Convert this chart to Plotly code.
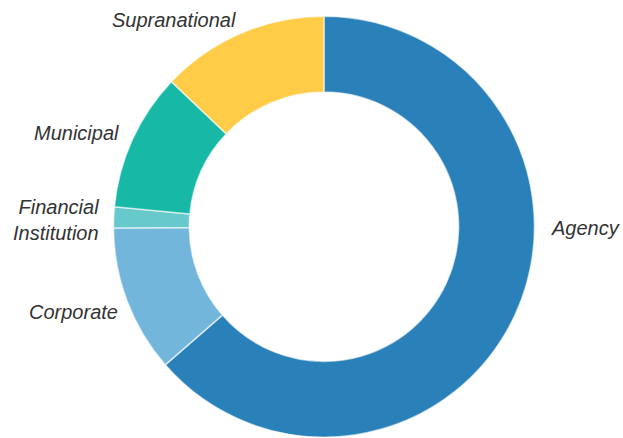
import plotly.graph_objects as go

categories = ["Agency", "Corporate", "Financial Institution", "Municipal", "Supranational"]
values = [63.6, 11.3, 1.6, 10.6, 12.9]
colors = ["#2a80b8", "#72b6db", "#68c9cc", "#17b9a6", "#fecc46"]
label_texts = ["Agency", "Corporate", "Financial<br>Institution", "Municipal", "Supranational"]

fig = go.Figure(go.Pie(
    labels=categories,
    values=values,
    sort=False,
    direction="clockwise",
    rotation=0,
    hole=0.64,
    marker=dict(colors=colors, line=dict(color="rgba(255,255,255,0.6)", width=1.5)),
    textinfo="none",
    hoverinfo="label+percent",
    domain=dict(x=[0.165, 0.875], y=[0.002, 0.963]),
    showlegend=False,
))

# label positions (paper coords) and anchors
label_pos = [
    (622 / 623, 1 - 228 / 438, "right"),
    (120 / 623, 1 - 312 / 438, "right"),
    (101 / 623, 1 - 220 / 438, "right"),
    (121 / 623, 1 - 133 / 438, "right"),
    (238 / 623, 1 - 20 / 438, "right"),
]
for txt, (x, y, xa) in zip(label_texts, label_pos):
    fig.add_annotation(
        x=x, y=y, xref="paper", yref="paper", text=txt, showarrow=False,
        xanchor=xa, yanchor="middle", align="right",
        font=dict(family="Liberation Sans, Arial, sans-serif", size=20, color="#333333", style="italic"),
    )

fig.update_layout(
    width=623, height=438,
    margin=dict(l=0, r=0, t=0, b=0),
    paper_bgcolor="white", plot_bgcolor="white",
)

fig.write_html("out.html", config={"displayModeBar": False},
               post_script="document.body.style.margin='0';document.body.style.overflow='hidden';")
